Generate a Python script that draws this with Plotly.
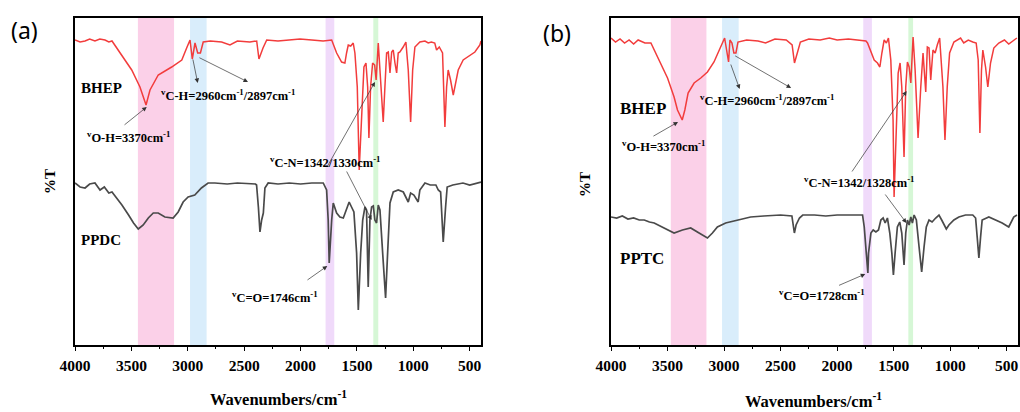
import plotly.graph_objects as go

# ---------------- data (%T in arbitrary offset units) ----------------
bhep_a_wn = [4000, 3955, 3911, 3870, 3823, 3780, 3734, 3700, 3672, 3616, 3557, 3497, 3424, 3370, 3335, 3262,
             3143, 3053, 3010, 2980, 2960, 2936, 2912, 2888, 2863, 2800, 2700, 2626, 2560, 2450, 2389, 2369,
             2333, 2300, 2200, 2100, 2005, 1900, 1800, 1724, 1680, 1636, 1607, 1592, 1577, 1555, 1533, 1518,
             1497, 1480, 1459, 1438, 1420, 1405, 1394, 1379, 1361, 1343, 1330, 1311, 1296, 1267, 1252, 1237,
             1222, 1207, 1192, 1178, 1163, 1148, 1134, 1119, 1090, 1066, 1045, 1024, 1006, 986, 942, 897, 868,
             840, 810, 794, 770, 741, 720, 705, 691, 670, 646, 631, 602, 558, 498, 454, 410, 400]
bhep_a_t = [305, 303, 304, 306, 304, 306, 305, 303, 304, 295, 285, 275, 258, 240, 255, 270,
            278, 285, 297, 305, 286, 302, 292, 292, 303, 304, 303, 300, 304, 303, 304, 286,
            297, 305, 304, 305, 306, 305, 304, 305, 292, 283, 282, 292, 300, 299, 302, 292,
            258, 175, 225, 278, 282, 258, 207, 258, 282, 280, 265, 302, 275, 223, 258, 292,
            293, 272, 293, 295, 282, 272, 292, 293, 298, 303, 275, 223, 275, 298, 303, 304, 302,
            303, 302, 295, 298, 292, 218, 258, 275, 265, 250, 258, 275, 285, 290, 293, 300, 304]

ppdc_wn = [4000, 3955, 3911, 3870, 3823, 3778, 3740, 3700, 3672, 3628, 3584, 3525, 3481, 3439, 3395, 3350,
           3306, 3262, 3203, 3130, 3085, 3041, 2997, 2938, 2879, 2820, 2760, 2650, 2560, 2400, 2390, 2374,
           2360, 2345, 2330, 2316, 2287, 2200, 2100, 2000, 1900, 1799, 1769, 1755, 1746, 1724, 1710, 1680,
           1651, 1621, 1592, 1569, 1548, 1527, 1503, 1488, 1467, 1449, 1429, 1415, 1400, 1385, 1370, 1355,
           1341, 1326, 1311, 1296, 1272, 1246, 1228, 1207, 1178, 1134, 1089, 1066, 1045, 1024, 995, 957,
           942, 897, 850, 800, 779, 758, 745, 735, 714, 700, 650, 560, 500, 430, 400]
ppdc_t = [162, 158, 157, 161, 162, 155, 158, 152, 153, 147, 140, 130, 122, 116, 120, 127,
          132, 132, 128, 127, 133, 143, 148, 150, 157, 162, 162, 161, 162, 161, 160, 138,
          113, 125, 132, 157, 162, 161, 162, 161, 162, 162, 155, 125, 82, 125, 142, 132,
          128, 127, 135, 143, 138, 133, 92, 35, 92, 125, 138, 135, 58, 125, 138, 139,
          125, 122, 140, 135, 92, 47, 92, 142, 153, 155, 153, 148, 143, 152, 150, 143,
          155, 162, 160, 160, 155, 153, 125, 103, 138, 158, 160, 162, 160, 162, 163]

bhep_b_wn = [4000, 3960, 3920, 3880, 3840, 3800, 3760, 3700, 3647, 3618, 3559, 3500, 3442, 3412, 3370, 3347,
             3318, 3265, 3206, 3147, 3089, 3045, 3015, 2995, 2960, 2948, 2930, 2913, 2895, 2877, 2800, 2700,
             2633, 2550, 2450, 2398, 2377, 2354, 2325, 2250, 2150, 2069, 2000, 1900, 1800, 1745, 1731, 1701,
             1672, 1643, 1622, 1604, 1584, 1564, 1546, 1525, 1505, 1496, 1481, 1460, 1443, 1428, 1408, 1393,
             1378, 1363, 1348, 1328, 1310, 1284, 1260, 1240, 1216, 1202, 1187, 1172, 1152, 1133, 1114, 1093,
             1064, 1046, 1026, 1005, 967, 908, 880, 840, 800, 770, 752, 737, 723, 711, 687, 667, 643, 614,
             570, 520, 482, 438, 410]
bhep_b_t = [307, 303, 306, 302, 305, 301, 305, 302, 302, 295, 282, 267, 248, 235, 225, 235,
            252, 262, 267, 273, 283, 295, 303, 307, 283, 305, 302, 292, 292, 303, 305, 304,
            302, 306, 305, 300, 282, 292, 303, 306, 305, 307, 305, 306, 305, 304, 302, 293,
            285, 282, 278, 292, 305, 302, 307, 285, 225, 148, 208, 272, 282, 258, 188, 258,
            283, 278, 262, 308, 275, 207, 258, 292, 253, 298, 297, 265, 295, 292, 300, 307,
            258, 205, 258, 292, 303, 307, 302, 305, 303, 302, 285, 212, 275, 295, 278, 258, 282, 297,
            302, 305, 301, 305, 307]

pptc_wn = [4000, 3950, 3900, 3850, 3800, 3750, 3706, 3660, 3618, 3530, 3442, 3368, 3295, 3221, 3147, 3103,
           3059, 2986, 2883, 2765, 2650, 2500, 2400, 2393, 2378, 2363, 2333, 2304, 2200, 2100, 2000, 1900,
           1775, 1760, 1745, 1728, 1722, 1701, 1681, 1657, 1634, 1613, 1593, 1575, 1555, 1534, 1516, 1502,
           1487, 1467, 1446, 1428, 1408, 1393, 1378, 1363, 1348, 1334, 1319, 1299, 1275, 1252, 1231, 1211,
           1187, 1160, 1128, 1099, 1075, 1055, 1034, 1011, 967, 923, 864, 800, 775, 761, 746, 731, 717, 658,
           599, 540, 482, 458, 438, 409]
pptc_t = [128, 127, 129, 126, 127, 125, 125, 123, 122, 117, 112, 115, 117, 112, 107, 112,
          118, 122, 125, 128, 129, 130, 129, 123, 112, 120, 127, 130, 130, 129, 130, 130,
          130, 118, 92, 72, 92, 112, 115, 113, 115, 125, 127, 122, 127, 112, 92, 70,
          92, 118, 123, 112, 80, 112, 125, 120, 128, 122, 130, 125, 98, 73, 98, 118,
          125, 123, 127, 130, 125, 120, 116, 120, 125, 128, 130, 130, 127, 108, 87, 108, 125, 128,
          125, 122, 118, 123, 128, 130]

# shaded bands (wavenumber ranges)
bands_a = [(3442, 3122), (2980, 2833), (1778, 1701), (1355, 1311)]
bands_b = [(3471, 3156), (3018, 2871), (1769, 1692), (1370, 1328)]
band_colors = ["rgba(250,200,228,0.85)", "rgba(210,234,250,0.85)", "rgba(238,214,250,0.9)", "rgba(210,246,210,0.9)"]

ticks = [4000, 3500, 3000, 2500, 2000, 1500, 1000, 500]

RED = "#f23c3c"
GRAY = "#4a4a4a"
SERIF = "Liberation Serif"

fig = go.Figure()
fig.add_trace(go.Scatter(x=bhep_a_wn, y=bhep_a_t, mode="lines", line=dict(color=RED, width=1.5), xaxis="x", yaxis="y"))
fig.add_trace(go.Scatter(x=ppdc_wn, y=ppdc_t, mode="lines", line=dict(color=GRAY, width=1.7), xaxis="x", yaxis="y"))
fig.add_trace(go.Scatter(x=bhep_b_wn, y=bhep_b_t, mode="lines", line=dict(color=RED, width=1.5), xaxis="x2", yaxis="y2"))
fig.add_trace(go.Scatter(x=pptc_wn, y=pptc_t, mode="lines", line=dict(color=GRAY, width=1.7), xaxis="x2", yaxis="y2"))

shapes = []
for (hi, lo), c in zip(bands_a, band_colors):
    shapes.append(dict(type="rect", xref="x", yref="y domain", x0=hi, x1=lo, y0=0, y1=1,
                       fillcolor=c, line=dict(width=0), layer="below"))
for (hi, lo), c in zip(bands_b, band_colors):
    shapes.append(dict(type="rect", xref="x2", yref="y2 domain", x0=hi, x1=lo, y0=0, y1=1,
                       fillcolor=c, line=dict(width=0), layer="below"))

W, H = 1020, 412
ydom = [1 - 345 / H, 1 - 18 / H]
xaxis_common = dict(range=[4000, 400], tickvals=ticks, ticks="outside", ticklen=4, tickwidth=1.3,
                    tickcolor="black", showline=True, mirror=True, linecolor="black", linewidth=1.5,
                    showgrid=False, zeroline=False, automargin=False,
                    tickfont=dict(family=SERIF, size=15.5, color="black", weight="bold"),
                    minor=dict(dtick=250, tick0=0, ticks="outside", ticklen=2, tickcolor="black"),
                    ticklabelstandoff=2)
yaxis_common = dict(range=[0, 327], showticklabels=False, ticks="", showline=True, mirror=True,
                    linecolor="black", linewidth=1.5, showgrid=False, zeroline=False, automargin=False)

annotations = []

def txt(x, y, s, xref, yref, size=12, xanchor="left", family=SERIF, weight="bold", textangle=0):
    annotations.append(dict(x=x, y=y, xref=xref, yref=yref, text=s, showarrow=False, xanchor=xanchor,
                            yanchor="middle", textangle=textangle,
                            font=dict(family=family, size=size, color="black", weight=weight)))

def arrow(x0, y0, x1, y1, xr, yr):
    annotations.append(dict(x=x1, y=y1, ax=x0, ay=y0, xref=xr, yref=yr, axref=xr, ayref=yr, text="",
                            showarrow=True, arrowhead=2, arrowsize=1.3, arrowwidth=0.7, arrowcolor="#333333"))

sup = "<sup>v</sup>"
LBL = 12.5
# panel (a)
txt(3965, 257, "BHEP", "x", "y", size=15)
txt(3911, 208, sup + "O-H=3370cm<sup>-1</sup>", "x", "y", size=LBL)
arrow(3574, 219, 3364, 238, "x", "y")
txt(3255, 250, sup + "C-H=2960cm<sup>-1</sup>/2897cm<sup>-1</sup>", "x", "y", size=LBL)
arrow(2957, 287, 2912, 262, "x", "y")
arrow(2910, 288, 2466, 263, "x", "y")
txt(2289, 183, sup + "C-N=1342/1330cm<sup>-1</sup>", "x", "y", size=LBL)
arrow(1766, 178, 1340, 263, "x", "y")
arrow(1598, 175, 1370, 125, "x", "y")
txt(3965, 105, "PPDC", "x", "y", size=15)
txt(2626, 48, sup + "C=O=1746cm<sup>-1</sup>", "x", "y", size=LBL)
arrow(1952, 64, 1763, 79, "x", "y")

# panel (b)
txt(3938, 237, "BHEP", "x2", "y2", size=17)
txt(3921, 199, sup + "O-H=3370cm<sup>-1</sup>", "x2", "y2", size=LBL)
arrow(3638, 208, 3407, 223, "x2", "y2")
txt(3233, 245, sup + "C-H=2960cm<sup>-1</sup>/2897cm<sup>-1</sup>", "x2", "y2", size=LBL)
arrow(2945, 282, 2862, 256, "x2", "y2")
arrow(2915, 290, 2407, 257, "x2", "y2")
txt(2307, 163, sup + "C-N=1342/1328cm<sup>-1</sup>", "x2", "y2", size=LBL)
arrow(1877, 172, 1385, 254, "x2", "y2")
arrow(1584, 152, 1387, 122, "x2", "y2")
txt(3938, 87, "PPTC", "x2", "y2", size=17)
txt(2536, 50, sup + "C=O=1728cm<sup>-1</sup>", "x2", "y2", size=LBL)
arrow(1996, 59, 1751, 71, "x2", "y2")

# axis titles and panel labels
txt(50 / W, 1 - 182 / H, "%T", "paper", "paper", size=15, xanchor="center", textangle=-90)
txt(585 / W, 1 - 185 / H, "%T", "paper", "paper", size=15, xanchor="center", textangle=-90)
txt(278 / W, 1 - 398 / H, "Wavenumbers/cm<sup>-1</sup>", "paper", "paper", size=16.5, xanchor="center")
txt(813 / W, 1 - 400 / H, "Wavenumbers/cm<sup>-1</sup>", "paper", "paper", size=16.5, xanchor="center")
txt(24 / W, 1 - 30 / H, "(a)", "paper", "paper", size=23, xanchor="center", family="Noto Sans", weight="normal")
txt(557 / W, 1 - 33 / H, "(b)", "paper", "paper", size=23, xanchor="center", family="Noto Sans", weight="normal")

fig.update_layout(
    template="none",
    width=W, height=H, margin=dict(l=0, r=0, t=0, b=0, autoexpand=False),
    paper_bgcolor="white", plot_bgcolor="white", showlegend=False,
    xaxis=dict(domain=[75 / W, 481 / W], anchor="y", **xaxis_common),
    yaxis=dict(domain=ydom, anchor="x", **yaxis_common),
    xaxis2=dict(domain=[611 / W, 1018 / W], anchor="y2", **xaxis_common),
    yaxis2=dict(domain=ydom, anchor="x2", **yaxis_common),
    shapes=shapes, annotations=annotations,
)

fig.write_html("out.html", config={"displayModeBar": False},
               post_script="document.body.style.margin='0';document.body.style.overflow='hidden';")
